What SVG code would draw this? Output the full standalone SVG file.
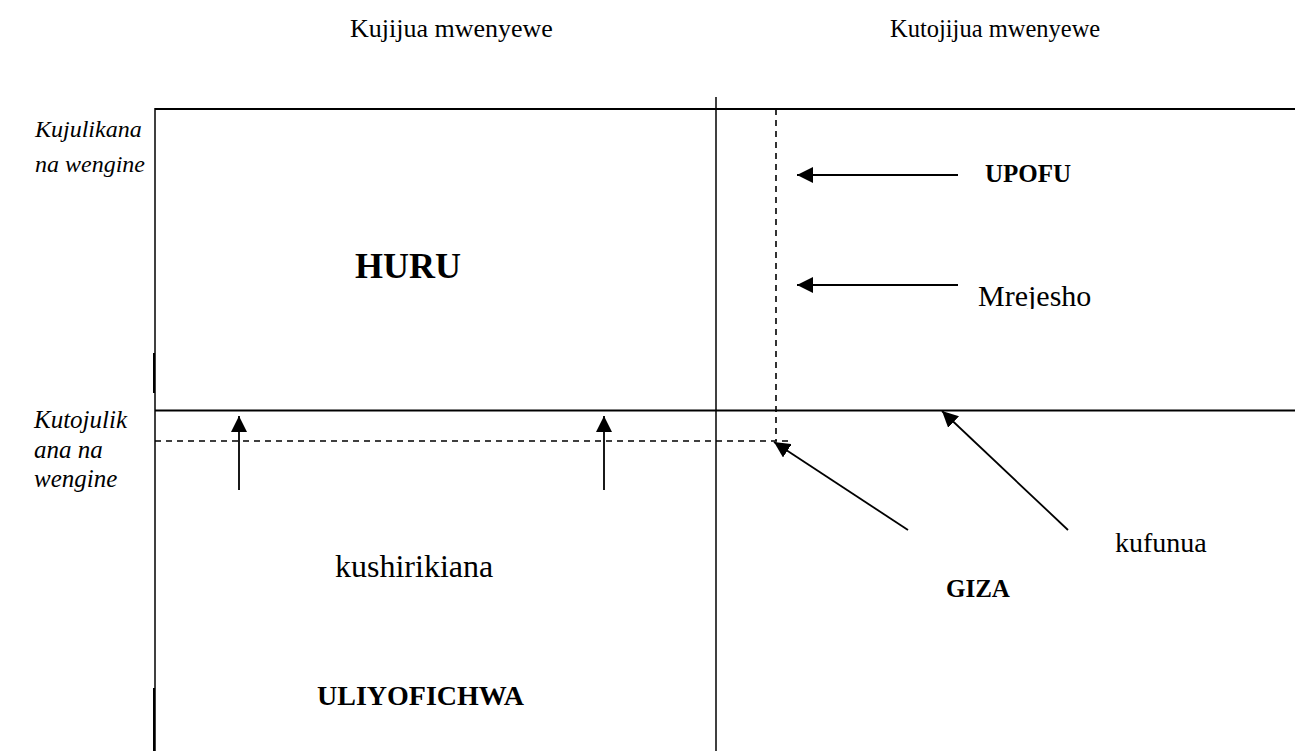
<svg xmlns="http://www.w3.org/2000/svg" width="1295" height="751" viewBox="0 0 1295 751">
<style>
.t{font-family:"Liberation Serif","Times New Roman",serif;fill:#000}
.it{font-style:italic}
.b{font-weight:bold}
.ln{stroke:#000;fill:none}
.ds{stroke:#000;fill:none;stroke-width:1.6;stroke-dasharray:6 5}
.ar{stroke:#000;stroke-width:1.8;fill:none;marker-end:url(#ah)}
</style>
<defs>
<marker id="ah" markerUnits="userSpaceOnUse" markerWidth="17" markerHeight="16" refX="16" refY="8" orient="auto">
<path d="M0,0 L16,8 L0,16 Z" fill="#000"/>
</marker>
<clipPath id="clipM"><rect x="900" y="250" width="300" height="59"/></clipPath>
</defs>
<rect width="1295" height="751" fill="#fff"/>
<g id="headers">
<text class="t" x="350" y="37" font-size="26">Kujijua mwenyewe</text>
<text class="t" x="890" y="37" font-size="24.5">Kutojijua mwenyewe</text>
</g>
<g id="row-labels">
<text class="t it" x="35" y="137" font-size="24">Kujulikana</text>
<text class="t it" x="35" y="172" font-size="24">na wengine</text>
<text class="t it" x="34" y="428" font-size="25">Kutojulik</text>
<text class="t it" x="34" y="458" font-size="25">ana na</text>
<text class="t it" x="34" y="487" font-size="25">wengine</text>
</g>
<g id="grid">
<line class="ln" x1="155" y1="109" x2="1295" y2="109" stroke-width="2"/>
<line class="ln" x1="155" y1="108" x2="155" y2="751" stroke-width="1.5"/>
<line class="ln" x1="154" y1="353" x2="154" y2="393" stroke-width="2"/>
<line class="ln" x1="154" y1="688" x2="154" y2="751" stroke-width="2"/>
<line class="ln" x1="716" y1="97" x2="716" y2="751" stroke-width="1.5"/>
<line class="ln" x1="155" y1="410.5" x2="1295" y2="410.5" stroke-width="2"/>
</g>
<g id="connectors">
<line class="ds" x1="155" y1="441" x2="792" y2="441"/>
<line class="ds" x1="776" y1="109" x2="776" y2="441"/>
<line class="ar" x1="239" y1="490" x2="239" y2="416"/>
<line class="ar" x1="604" y1="490" x2="604" y2="416"/>
<line class="ar" x1="958" y1="175" x2="797" y2="175"/>
<line class="ar" x1="958" y1="285" x2="797" y2="285"/>
<line class="ar" x1="908" y1="530" x2="774" y2="442"/>
<line class="ar" x1="1068" y1="530" x2="942" y2="411"/>
</g>
<g id="huru"><text class="t b" x="355" y="278" font-size="36">HURU</text></g>
<g id="upofu"><text class="t b" x="985" y="182" font-size="25">UPOFU</text></g>
<g id="mrejesho"><text class="t" x="978" y="306" font-size="30" clip-path="url(#clipM)">Mrejesho</text></g>
<g id="kushirikiana"><text class="t" x="335" y="577" font-size="32">kushirikiana</text></g>
<g id="kufunua"><text class="t" x="1115" y="552" font-size="28">kufunua</text></g>
<g id="giza"><text class="t b" x="946" y="597" font-size="25">GIZA</text></g>
<g id="uliyofichwa"><text class="t b" x="317" y="705" font-size="28">ULIYOFICHWA</text></g>
</svg>
